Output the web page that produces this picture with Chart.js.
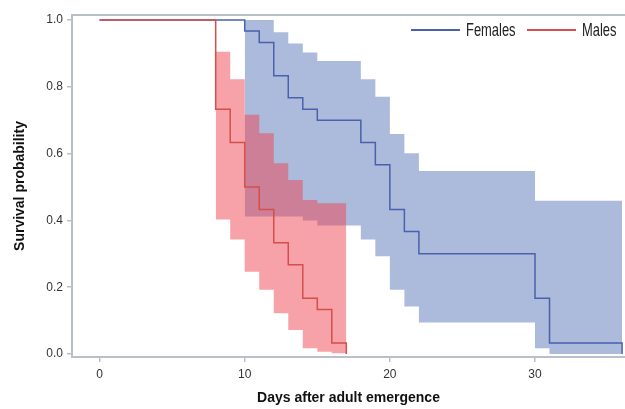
<!DOCTYPE html>
<html>
<head>
<meta charset="utf-8">
<script src="https://cdn.jsdelivr.net/npm/chart.js@4"></script>
<style>
  html, body { margin: 0; padding: 0; background: #fff; }
  #wrap { width: 625px; height: 409px; position: relative; }
  #legend {
    position: absolute; right: 8px; top: 20px;
    display: flex; align-items: center;
    font-family: "Liberation Sans", Arial, sans-serif; font-size: 19px; line-height: 20px; color: #222;
  }
  #legend .item { display: flex; align-items: center; margin-left: 12px; }
  #legend .swatch { display: inline-block; width: 49px; height: 0; border-top: 2px solid; margin-right: 6px; }
  #legend .lbl { display: inline-block; white-space: nowrap; }
  #legend .lbl span { display: inline-block; transform: scaleX(0.68); transform-origin: 0 50%; }
</style>
</head>
<body>
<div id="wrap"><canvas id="survChart"></canvas><div id="legend"></div></div>
<script>
// Kaplan-Meier curves
const femaleDays = [0, 10, 11, 12, 13, 14, 15, 18, 19, 20, 21, 22, 30, 31, 36];
const femaleSurv = [1.0, 0.967, 0.933, 0.833, 0.767, 0.733, 0.70, 0.633, 0.567, 0.433, 0.367, 0.30, 0.167, 0.033, 0.0];

const maleDays = [0, 8, 9, 10, 11, 12, 13, 14, 15, 16, 17];
const maleSurv = [1.0, 0.733, 0.633, 0.50, 0.433, 0.333, 0.267, 0.167, 0.133, 0.033, 0.0];

// confidence bands
const femaleBandDays = [10, 11, 12, 13, 14, 15, 16, 17, 18, 19, 20, 21, 22, 30, 31, 36];
const femaleUpper = [1.0, 1.0, 0.963, 0.930, 0.903, 0.877, 0.877, 0.877, 0.823, 0.770, 0.659, 0.601, 0.548, 0.459, 0.459, 0.459];
const femaleLower = [0.412, 0.412, 0.412, 0.412, 0.400, 0.385, 0.385, 0.385, 0.343, 0.293, 0.192, 0.142, 0.094, 0.017, 0.0, 0.0];

const maleBandDays = [8, 9, 10, 11, 12, 13, 14, 15, 16, 17];
const maleUpper = [0.905, 0.823, 0.716, 0.661, 0.571, 0.521, 0.461, 0.451, 0.451, 0.451];
const maleLower = [0.403, 0.343, 0.246, 0.192, 0.122, 0.072, 0.017, 0.007, 0.002, 0.002];

const xTicks = [0, 10, 20, 30];
const yTicks = [0, 0.2, 0.4, 0.6, 0.8, 1.0];

const blueLine = "#4a62ad";
const redLine = "#d64f4c";
const blueFill = "rgba(89, 117, 185, 0.5)";
const redFill = "rgba(237, 69, 81, 0.5)";
const axisGray = "#b9c0ca";

function pts(xs, ys) {
  return xs.map((x, i) => ({ x: x, y: ys[i] }));
}

function bandEdge(label, xs, ys, order, fill, color) {
  return {
    label: label,
    data: pts(xs, ys),
    stepped: true,
    borderColor: "transparent",
    borderWidth: 0,
    pointRadius: 0,
    backgroundColor: color || "transparent",
    fill: fill,
    order: order
  };
}

// draws the top border of the frame
const frameTop = {
  id: "frameTop",
  beforeDatasetsDraw(chart) {
    const { ctx, chartArea } = chart;
    ctx.save();
    ctx.strokeStyle = axisGray;
    ctx.lineWidth = 2;
    ctx.beginPath();
    ctx.moveTo(chartArea.left, chartArea.top);
    ctx.lineTo(chartArea.right, chartArea.top);
    ctx.stroke();
    ctx.restore();
  }
};

// html legend, condensed text like the original
function buildLegend(chart) {
  const box = document.getElementById("legend");
  box.innerHTML = "";
  chart.data.datasets.slice(0, 2).forEach(ds => {
    const item = document.createElement("div");
    item.className = "item";
    const swatch = document.createElement("span");
    swatch.className = "swatch";
    swatch.style.borderTopColor = ds.borderColor;
    const lbl = document.createElement("span");
    lbl.className = "lbl";
    const txt = document.createElement("span");
    txt.textContent = ds.label;
    lbl.appendChild(txt);
    item.appendChild(swatch);
    item.appendChild(lbl);
    box.appendChild(item);
    lbl.style.width = (txt.offsetWidth * 0.68) + "px";
  });
}

const ctx = document.getElementById("survChart").getContext("2d");
const chart = new Chart(ctx, {
  type: "line",
  data: {
    datasets: [
      {
        label: "Females",
        data: pts(femaleDays, femaleSurv),
        stepped: true,
        borderColor: blueLine,
        backgroundColor: blueLine,
        borderWidth: 1.5,
        pointRadius: 0,
        fill: false,
        order: 1
      },
      {
        label: "Males",
        data: pts(maleDays, maleSurv),
        stepped: true,
        borderColor: redLine,
        backgroundColor: redLine,
        borderWidth: 1.5,
        pointRadius: 0,
        fill: false,
        order: 0
      },
      bandEdge("F upper", femaleBandDays, femaleUpper, 3, false),
      bandEdge("F lower", femaleBandDays, femaleLower, 3, "-1", blueFill),
      bandEdge("M upper", maleBandDays, maleUpper, 2, false),
      bandEdge("M lower", maleBandDays, maleLower, 2, "-1", redFill)
    ]
  },
  options: {
    responsive: true,
    maintainAspectRatio: false,
    animation: false,
    layout: { padding: { top: 15, right: 0, left: 0, bottom: 0 } },
    plugins: {
      tooltip: { enabled: false },
      legend: { display: false }
    },
    scales: {
      x: {
        type: "linear",
        min: -1.9,
        max: 36.2,
        afterFit: s => { s.height = 52; },
        afterBuildTicks: s => { s.ticks = xTicks.map(v => ({ value: v })); },
        grid: { display: true, drawOnChartArea: false, tickLength: 5, color: axisGray, lineWidth: 1.5 },
        border: { display: true, color: axisGray, width: 2 },
        ticks: {
          padding: 5,
          color: "#333",
          font: { family: "'Liberation Sans', Arial, sans-serif", size: 12 }
        },
        title: {
          display: true,
          text: "Days after adult emergence",
          color: "#111",
          padding: { top: 0, bottom: 2 },
          font: { family: "'Liberation Sans', Arial, sans-serif", size: 14, weight: "bold" }
        }
      },
      y: {
        min: -0.009,
        max: 1.015,
        afterFit: s => { s.width = 72; },
        afterBuildTicks: s => { s.ticks = yTicks.map(v => ({ value: v })); },
        grid: { display: true, drawOnChartArea: false, tickLength: 5, color: axisGray, lineWidth: 1.5 },
        border: { display: true, color: axisGray, width: 2 },
        ticks: {
          padding: 4,
          color: "#333",
          callback: v => v.toFixed(1),
          font: { family: "'Liberation Sans', Arial, sans-serif", size: 12 }
        },
        title: {
          display: true,
          text: "Survival probability",
          color: "#111",
          padding: { top: 12, bottom: 0 },
          font: { family: "'Liberation Sans', Arial, sans-serif", size: 14, weight: "bold" }
        }
      }
    }
  },
  plugins: [frameTop]
});

buildLegend(chart);
</script>
</body>
</html>
